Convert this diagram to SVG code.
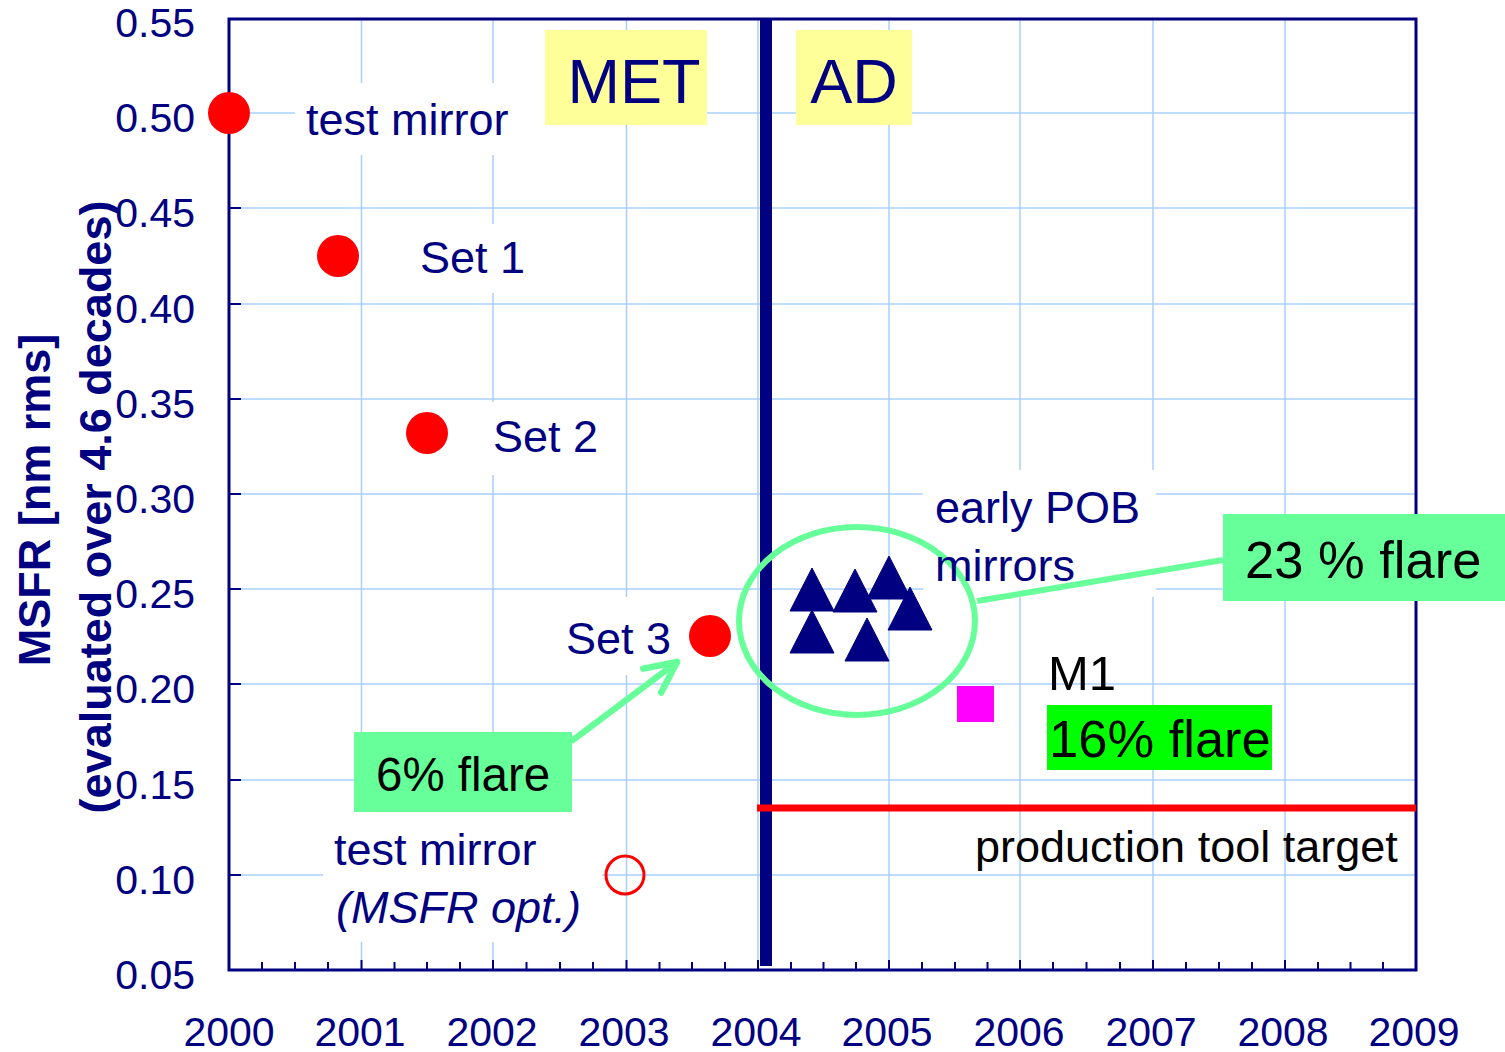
<svg xmlns="http://www.w3.org/2000/svg" width="1505" height="1052" viewBox="0 0 1505 1052">
<style>
text{font-family:"Liberation Sans",Arial,sans-serif;}
.nv{fill:#000080;}
.bk{fill:#000000;}
.tick{font-size:41px;fill:#000080;}
.lbl{font-size:45px;fill:#000080;}
.grid line{stroke:#A8D0FF;stroke-width:1.5;}
.ax{stroke:#000080;stroke-width:2;}
.dot{fill:#FF0000;}
.tri{fill:#000080;stroke:#000080;stroke-width:1;stroke-linejoin:round;}
.wb{fill:#FFFFFF;}
.gbox{fill:#66FF99;}
</style>
<defs>
<path id="tri" d="M0,0 L22,43 L-22,43 Z"/>
<marker id="chev" markerUnits="userSpaceOnUse" orient="auto" refX="0" refY="0" markerWidth="40" markerHeight="40" overflow="visible">
<path d="M-31,-15 L0,0 L-31,15" fill="none" stroke="#66FF99" stroke-width="6.5" stroke-linecap="round" stroke-linejoin="round"/>
</marker>
</defs>
<rect width="1505" height="1052" fill="#FFFFFF"/>

<g id="grid" class="grid">
<line x1="229" y1="113" x2="1416" y2="113"/>
<line x1="229" y1="208" x2="1416" y2="208"/>
<line x1="229" y1="304" x2="1416" y2="304"/>
<line x1="229" y1="399" x2="1416" y2="399"/>
<line x1="229" y1="494" x2="1416" y2="494"/>
<line x1="229" y1="589" x2="1416" y2="589"/>
<line x1="229" y1="684" x2="1416" y2="684"/>
<line x1="229" y1="780" x2="1416" y2="780"/>
<line x1="229" y1="875" x2="1416" y2="875"/>
<line x1="361.5" y1="18" x2="361.5" y2="970"/>
<line x1="493" y1="18" x2="493" y2="970"/>
<line x1="626.5" y1="18" x2="626.5" y2="970"/>
<line x1="758" y1="18" x2="758" y2="970"/>
<line x1="889" y1="18" x2="889" y2="970"/>
<line x1="1020" y1="18" x2="1020" y2="970"/>
<line x1="1153" y1="18" x2="1153" y2="970"/>
<line x1="1285" y1="18" x2="1285" y2="970"/>
</g>

<g id="label-backgrounds">
<rect class="wb" x="295" y="83" width="250" height="72"/>
<rect class="wb" x="405" y="224" width="132" height="69"/>
<rect class="wb" x="470" y="402" width="142" height="73"/>
<rect class="wb" x="553" y="597" width="130" height="78"/>
<rect class="wb" x="923" y="470" width="233" height="127"/>
<rect class="wb" x="323" y="812" width="279" height="130"/>
</g>

<g id="axes">
<rect x="229" y="19" width="1187" height="951" fill="none" stroke="#000080" stroke-width="3"/>
<path class="ax" d="M229,113h12M229,208h12M229,304h12M229,399h12M229,494h12M229,589h12M229,684h12M229,780h12M229,875h12"/>
<path class="ax" d="M262,970v-8M295,970v-8M328,970v-8M361.5,970v-10M394.5,970v-8M427,970v-8M460,970v-8M493,970v-10M526.5,970v-8M560,970v-8M593,970v-8M626.5,970v-10M659.5,970v-8M692,970v-8M725,970v-8M758,970v-10M791,970v-8M823.5,970v-8M856,970v-8M889,970v-10M922,970v-8M955,970v-8M987.5,970v-8M1020,970v-10M1053,970v-8M1086.5,970v-8M1120,970v-8M1153,970v-10M1186,970v-8M1219,970v-8M1252,970v-8M1285,970v-10M1318,970v-8M1350.5,970v-8M1383,970v-8"/>
<text class="tick" x="195" y="37" text-anchor="end">0.55</text>
<text class="tick" x="195" y="132" text-anchor="end">0.50</text>
<text class="tick" x="195" y="227" text-anchor="end">0.45</text>
<text class="tick" x="195" y="323" text-anchor="end">0.40</text>
<text class="tick" x="195" y="418" text-anchor="end">0.35</text>
<text class="tick" x="195" y="513" text-anchor="end">0.30</text>
<text class="tick" x="195" y="608" text-anchor="end">0.25</text>
<text class="tick" x="195" y="703" text-anchor="end">0.20</text>
<text class="tick" x="195" y="799" text-anchor="end">0.15</text>
<text class="tick" x="195" y="894" text-anchor="end">0.10</text>
<text class="tick" x="195" y="989" text-anchor="end">0.05</text>
<text class="tick" x="229" y="1046" text-anchor="middle">2000</text>
<text class="tick" x="360" y="1046" text-anchor="middle">2001</text>
<text class="tick" x="492" y="1046" text-anchor="middle">2002</text>
<text class="tick" x="624" y="1046" text-anchor="middle">2003</text>
<text class="tick" x="756" y="1046" text-anchor="middle">2004</text>
<text class="tick" x="887" y="1046" text-anchor="middle">2005</text>
<text class="tick" x="1019" y="1046" text-anchor="middle">2006</text>
<text class="tick" x="1151" y="1046" text-anchor="middle">2007</text>
<text class="tick" x="1283" y="1046" text-anchor="middle">2008</text>
<text class="tick" x="1414" y="1046" text-anchor="middle">2009</text>
<text class="nv" transform="translate(50,500) rotate(-90)" text-anchor="middle" font-size="45" font-weight="bold">MSFR [nm rms]</text>
<text class="nv" transform="translate(111,507) rotate(-90)" text-anchor="middle" font-size="45" font-weight="bold">(evaluated over 4.6 decades)</text>
</g>

<g id="met-ad-divider">
<rect x="760" y="19" width="12" height="947" fill="#000080"/>
</g>
<g id="met-label">
<rect x="545" y="30" width="162" height="95" fill="#FFFF99"/>
<text class="nv" x="634" y="103" text-anchor="middle" font-size="63">MET</text>
</g>
<g id="ad-label">
<rect x="796" y="30" width="116" height="95" fill="#FFFF99"/>
<text class="nv" x="854" y="103" text-anchor="middle" font-size="63">AD</text>
</g>

<g id="production-target">
<line x1="757" y1="808" x2="1416" y2="808" stroke="#FF0000" stroke-width="7"/>
<text class="bk" x="975" y="862" font-size="45">production tool target</text>
</g>

<g id="test-mirror">
<circle class="dot" cx="229" cy="113" r="21"/>
<text class="lbl" x="306" y="135">test mirror</text>
</g>
<g id="set1">
<circle class="dot" cx="338" cy="256" r="21"/>
<text class="lbl" x="420" y="273">Set 1</text>
</g>
<g id="set2">
<circle class="dot" cx="427" cy="433" r="21"/>
<text class="lbl" x="493" y="452">Set 2</text>
</g>
<g id="set3">
<circle class="dot" cx="710" cy="636" r="21"/>
<text class="lbl" x="566" y="654">Set 3</text>
</g>
<g id="test-mirror-msfr">
<circle cx="625" cy="875" r="19" fill="none" stroke="#FF0000" stroke-width="3"/>
<text class="lbl" x="334" y="865">test mirror</text>
<text class="lbl" x="336" y="923" font-style="italic">(MSFR opt.)</text>
</g>

<g id="pob-mirrors">
<use href="#tri" class="tri" x="812" y="568"/>
<use href="#tri" class="tri" x="889" y="556"/>
<use href="#tri" class="tri" x="855" y="569"/>
<use href="#tri" class="tri" x="910" y="587"/>
<use href="#tri" class="tri" x="812" y="610"/>
<use href="#tri" class="tri" x="867" y="618"/>
<ellipse cx="857" cy="621" rx="118" ry="94" fill="none" stroke="#66FF99" stroke-width="6"/>
<text class="lbl" x="935" y="523">early POB</text>
<text class="lbl" x="935" y="581">mirrors</text>
</g>

<g id="m1">
<rect x="957" y="686" width="37" height="36" fill="#FF00FF"/>
<text class="bk" x="1048" y="690" font-size="49">M1</text>
<rect x="1047" y="705" width="225" height="65" fill="#00FF00"/>
<text class="bk" x="1049" y="757" font-size="52.5">16% flare</text>
</g>

<g id="connectors">
<line x1="977" y1="601" x2="1223" y2="560" stroke="#66FF99" stroke-width="6"/>
<line x1="573" y1="740" x2="677" y2="662" stroke="#66FF99" stroke-width="6.5" stroke-linecap="round" marker-end="url(#chev)"/>
</g>

<g id="flare23">
<rect class="gbox" x="1223" y="514" width="282" height="87"/>
<text class="bk" x="1245" y="578" font-size="52.5">23 % flare</text>
</g>
<g id="flare6">
<rect class="gbox" x="354" y="732" width="218" height="80"/>
<text class="bk" x="376" y="791" font-size="47.5">6% flare</text>
</g>
</svg>
